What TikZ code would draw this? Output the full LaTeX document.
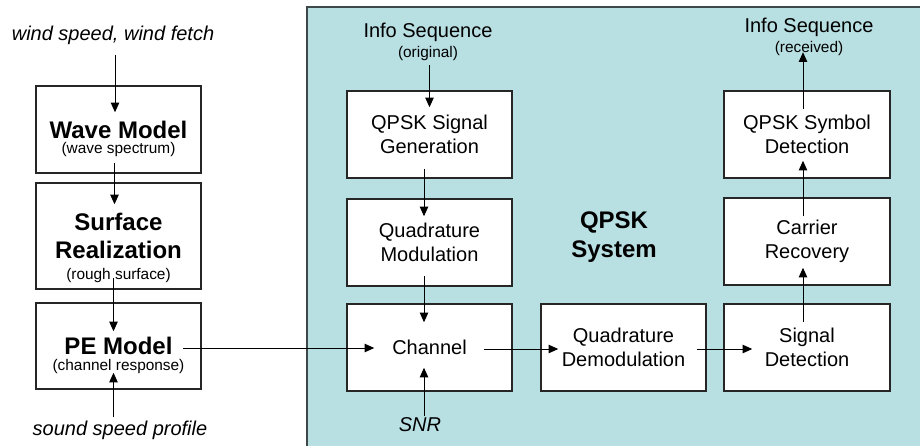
\documentclass[tikz,border=0pt]{standalone}
\usepackage{fontspec}
\setmainfont{Liberation Sans}
\usepackage{xcolor}
\definecolor{qpskbg}{HTML}{B8DFE2}
\definecolor{framegray}{HTML}{3F4848}
\definecolor{boxgray}{HTML}{262626}
\usetikzlibrary{arrows.meta,positioning,calc}
\tikzset{
  blk/.style    = {draw=boxgray,line width=0.75pt,fill=white,align=center,
                   minimum width=82.5pt,minimum height=43.5pt,inner sep=0pt,
                   font=\fontsize{10}{12}\selectfont},
  bigblk/.style = {blk,font=\fontsize{12}{14}\selectfont\bfseries},
  sub/.style    = {inner sep=0pt,font=\fontsize{7.7}{9}\selectfont},
  lbl/.style    = {inner sep=0pt,align=center,font=\fontsize{10}{11}\selectfont},
  ilbl/.style   = {lbl,font=\fontsize{10}{12}\selectfont\itshape},
  sig/.style    = {-{Triangle[length=4.8pt,width=4.2pt]},line width=0.5pt},
  frame/.style  = {draw=framegray,line width=1.4pt,fill=qpskbg},
}
\begin{document}
\begin{tikzpicture}[x=0.5pt,y=-0.5pt]
  \useasboundingbox (0,0) rectangle (920,445);
  % QPSK system background
  \draw[frame] (307,7) rectangle (935,460);
  \node[font=\fontsize{12}{14.5}\selectfont\bfseries,align=center] (qpsk) at (614,237) {QPSK\\System};

  % ocean / acoustic side
  \node[ilbl] (wind) at (113,35) {wind speed, wind fetch};
  \node[bigblk] (wave) at (118.5,129.5) {Wave Model};
  \node[sub] (wavesub) at ([yshift=-10pt]wave.center) {(wave spectrum)};
  \node[bigblk,minimum height=53pt] (surf) at (118.5,236) {Surface\\Realization};
  \node[sub] (surfsub) at ([yshift=-20pt]surf.center) {(rough surface)};
  \node[bigblk,minimum height=43pt] (pe) at (118.5,346) {PE Model};
  \node[sub] (pesub) at ([yshift=-10.5pt]pe.center) {(channel response)};
  \node[ilbl] (sound) at (120,430) {sound speed profile};

  % transmitter
  \node[lbl] (infoin) at (428,42) {Info Sequence\\[-1pt]{\fontsize{7.7}{9}\selectfont(original)}};
  \node[blk] (gen) at (429.5,134.5) {QPSK Signal\\Generation};
  \node[blk] (mod) at (429.5,242.5) {Quadrature\\Modulation};
  \node[blk] (chan) at (429.5,347.5) {Channel};
  \node[ilbl] (snr) at (420,425) {SNR};

  % receiver
  \node[blk] (demod) at (623.5,347.5) {Quadrature\\Demodulation};
  \node[blk,minimum width=83pt] (sigdet) at (807,347.5) {Signal\\Detection};
  \node[blk,minimum width=83pt] (carrier) at (807,241.5) {Carrier\\Recovery};
  \node[blk,minimum width=83pt] (symdet) at (807,134.5) {QPSK Symbol\\Detection};
  \node[lbl] (infoout) at (809,37) {Info Sequence\\[-1pt]{\fontsize{7.7}{9}\selectfont(received)}};

  % connectors
  \draw[sig] ([xshift=-1.75pt,yshift=-5pt]wave.north |- wind.south) -- ([xshift=-1.75pt,yshift=-13.5pt]wave.north);
  \draw[sig] ([xshift=-2pt,yshift=5.5pt]wave.south) -- ([xshift=-2pt,yshift=-11pt]surf.north);
  \draw[sig] ([xshift=-2.5pt,yshift=6pt]surf.south) -- ([xshift=-2.5pt,yshift=-14.5pt]pe.north);
  \draw[sig] ([xshift=-2.5pt]pe.south |- sound.north) ++(0,-3) -- ([xshift=-2.5pt,yshift=8.5pt]pe.south);
  \draw[sig] ([xshift=-9.5pt,yshift=-1pt]pe.east) -- ([xshift=14pt,yshift=-0.25pt]chan.west);
  \draw[sig] ([yshift=-2pt]gen.north |- infoin.south) -- ([yshift=-8.5pt]gen.north);
  \draw[sig] ([xshift=-2.75pt,yshift=5pt]gen.south) -- ([xshift=-2.75pt,yshift=-9pt]mod.north);
  \draw[sig] ([xshift=-2.75pt,yshift=5.5pt]mod.south) -- ([xshift=-2.75pt,yshift=-9.5pt]chan.north);
  \draw[sig] ([xshift=-2.75pt]chan.south |- snr.north) ++(0,-2) -- ([xshift=-2.75pt,yshift=12pt]chan.south);
  \draw[sig] ([xshift=-14.5pt,yshift=-0.75pt]chan.east) -- ([xshift=9pt,yshift=-0.75pt]demod.west);
  \draw[sig] ([xshift=-5pt,yshift=-0.75pt]demod.east) -- ([xshift=14.5pt,yshift=-0.75pt]sigdet.west);
  \draw[sig] ([xshift=-2pt,yshift=-9.5pt]sigdet.north) -- ([xshift=-2pt,yshift=9pt]carrier.south);
  \draw[sig] ([xshift=-2pt,yshift=-9.5pt]carrier.north) -- ([xshift=-2pt,yshift=9pt]symdet.south);
  \draw[sig] ([xshift=-2pt,yshift=-9.5pt]symdet.north) -- ([xshift=-2pt,yshift=2pt]symdet.north |- infoout.south);
\end{tikzpicture}
\end{document}
